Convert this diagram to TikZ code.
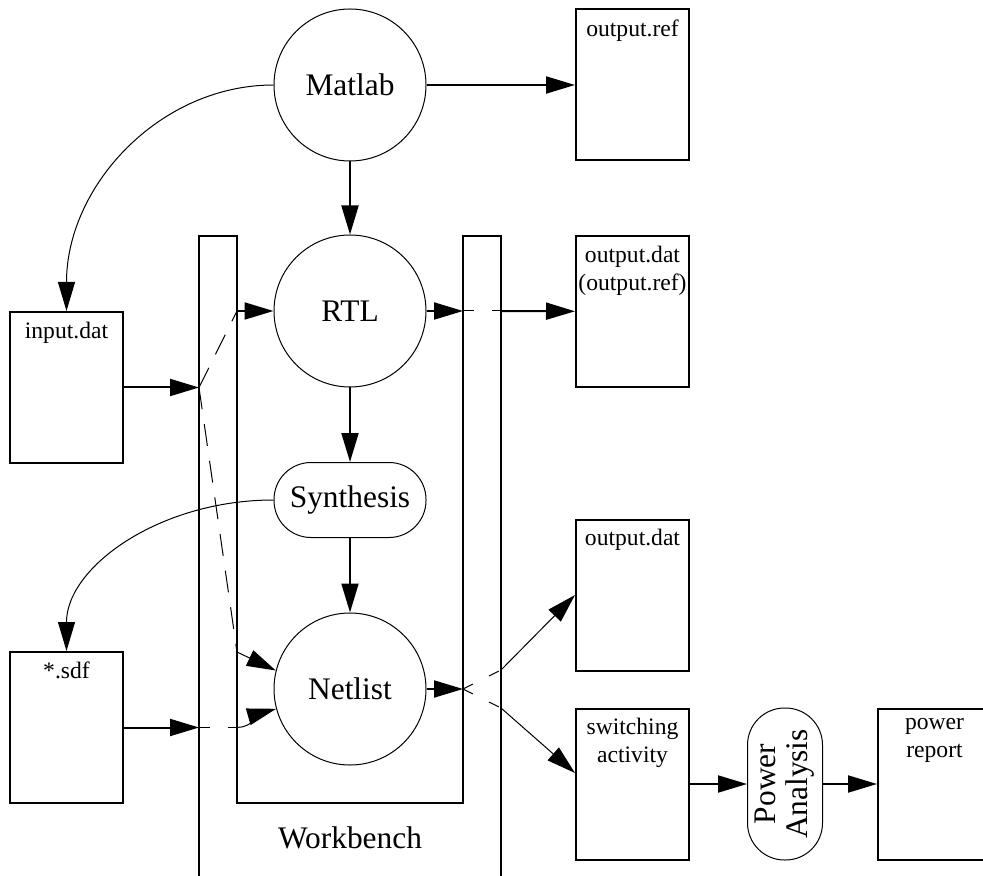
\documentclass[tikz,border=0pt]{standalone}
\usepackage{fontspec}
\setmainfont{Liberation Serif}
\usepackage{tikz}
\usetikzlibrary{arrows.meta,positioning,calc}
\tikzset{
  processo/.style={circle, draw, line width=0.5pt, minimum size=76pt, inner sep=0pt, font=\letragrande},
  etapa/.style={rectangle, rounded corners=18.5pt, draw, line width=0.5pt, minimum width=76pt,
    minimum height=37.5pt, inner sep=0pt, align=center, font=\letragrande},
  ficheiro/.style={rectangle, draw, line width=1pt, minimum width=56.5pt, minimum height=75.5pt,
    inner xsep=0pt, inner ysep=5pt, font=\fontsize{11.8}{14}\selectfont},
  seta/.style={-{Triangle[length=14.5pt,width=8.5pt]}, line width=1pt},
  curva/.style={seta, line width=0.5pt},
  tracejado/.style={line width=0.5pt, dash pattern=on 5.5pt off 9pt},
  longo/.style={line width=0.5pt, dash pattern=on 11pt off 7.5pt},
  parede/.style={line width=1pt},
}
\newcommand{\letragrande}{\fontsize{15.7}{16}\selectfont}
\newcommand{\fich}[1]{\parbox[t][65.5pt][t]{56.5pt}{\centering #1}}

\begin{document}
\begin{tikzpicture}[x=0.5pt, y=-0.5pt]
    \useasboundingbox (0,0) rectangle (983,876);
    % bancada de testes
    \draw[parede] (199,890) -- (199,236) -- (237,236) -- (237,803) -- (463,803) -- (463,236) -- (501,236) -- (501,890);
    \node[font=\letragrande] (wb) at (350,838) {Workbench};
    \node[processo] (mat) at (350,85) {Matlab};
    \node[processo] (rtl) at (350,311) {RTL};
    \node[etapa] (syn) at (350,500) {Synthesis};
    \node[processo] (net) at (350,689) {Netlist};
    \node[ficheiro] (ref) at (632.5,85) {\fich{output.ref}};
    \node[ficheiro] (dat1) at (632.5,311.5) {\fich{output.dat\\(output.ref)}};
    \node[ficheiro] (inp) at (66.5,387.5) {\fich{input.dat}};
    \node[ficheiro] (dat2) at (632.5,595) {\fich{output.dat}};
    \node[ficheiro] (sdf) at (66.5,727.5) {\fich{*.sdf}};
    \node[ficheiro] (sw) at (632.5,784) {\fich{switching\\activity}};
    \node[etapa, rotate=90] (pwr) at (785,784) {Power\\Analysis};
    \node[ficheiro] (rep) at (934.5,784) {\fich{power\\report}};
    % passagens pela bancada
    \coordinate (inpin) at (199,387.5);
    \coordinate (sdfin) at (199,727.5);
    \coordinate (rtlin) at (237,311);
    \coordinate (netin) at (237,652);
    \coordinate (sdfout) at (237,727.5);
    \coordinate (rtlout) at (463,311);
    \coordinate (rtlfora) at (501,311);
    \coordinate (netout) at (463,689);
    \coordinate (datfora) at (501,670);
    \coordinate (swfora) at (501,708);
    \draw[seta] (mat) -- (rtl);
    \draw[seta] (rtl) -- (syn);
    \draw[seta] (syn) -- (net);
    \draw[seta] (mat) -- (ref);
    \draw[curva] (mat.west) .. controls +(-114,0) and +(0,-125) .. (inp.north);
    \draw[curva] (syn.west) .. controls +(-114,0) and +(0,-84) .. (sdf.north);
    \draw[seta] (inp.east) -- (inpin);
    \draw[longo] (inpin) -- (rtlin);
    \draw[longo] (inpin) -- (netin);
    \draw[seta] (rtlin) -- (rtl);
    \draw[curva] (netin) -- (net.166);
    \draw[seta] (sdf.east) -- (sdfin);
    \draw[tracejado] (sdfin) -- (sdfout);
    \draw[curva] (sdfout) .. controls +(15,0) and +(-14,4) .. (net.195);
    \draw[seta] (rtl) -- (rtlout);
    \draw[tracejado] (rtlout) -- (rtlfora);
    \draw[seta] (rtlfora) -- (dat1);
    \draw[seta] (net) -- (netout);
    \draw[tracejado] (netout) -- (datfora);
    \draw[tracejado] (netout) -- (swfora);
    \draw[curva] (datfora) -- (dat2.west);
    \draw[curva] (swfora) -- ([yshift=5.5pt]sw.west);
    \draw[seta] (sw) -- (pwr);
    \draw[seta] (pwr) -- (rep);
\end{tikzpicture}
\end{document}
